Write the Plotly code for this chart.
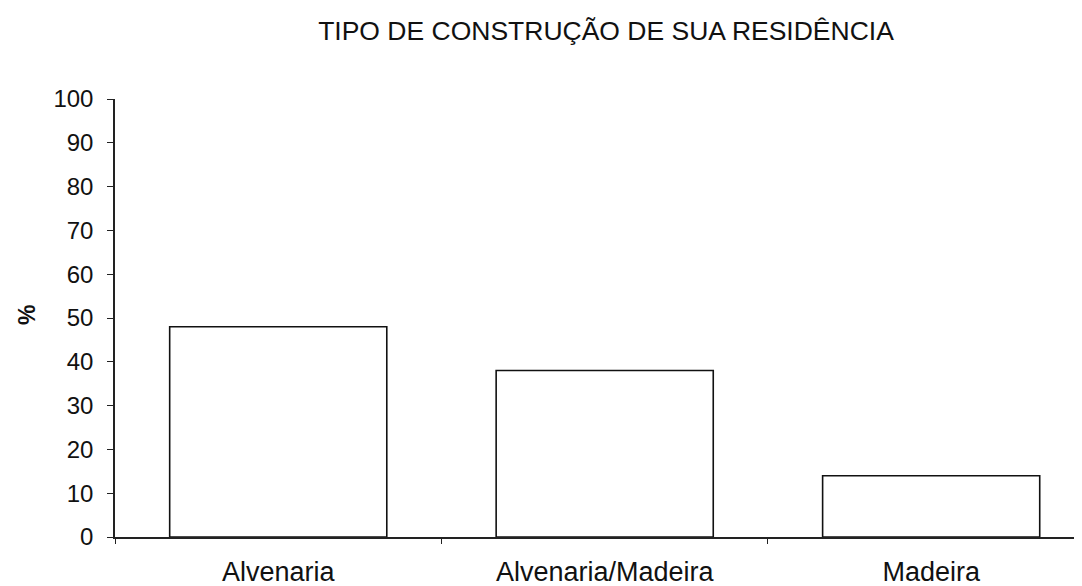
import plotly.graph_objects as go

categories = ["Alvenaria", "Alvenaria/Madeira", "Madeira"]
values = [48, 38, 14]
y_ticks = list(range(0, 101, 10))

title_text = "TIPO DE CONSTRUÇÃO DE SUA RESIDÊNCIA"
y_title = "%"

FONT = "Liberation Sans, Arial, sans-serif"
# page body has an 8px margin; the figure is sized to fill the rest of the window
OFF = 8
W, H = 1082 - OFF, 586 - OFF
L, R, T = 115 - OFF, 0, 99 - OFF
PLOT_H = 537 - 99
B = H - T - PLOT_H

fig = go.Figure()
fig.add_trace(go.Bar(
    x=categories,
    y=values,
    width=0.665,
    marker=dict(color="white", line=dict(color="#111111", width=1.6)),
    hoverinfo="x+y",
))

fig.update_layout(
    width=W,
    height=H,
    margin=dict(l=L, r=R, t=T, b=B, pad=0),
    paper_bgcolor="white",
    plot_bgcolor="white",
    showlegend=False,
    font=dict(family=FONT, color="#111111"),
    title=dict(
        text=title_text,
        font=dict(family=FONT, size=26.5, color="#111111"),
        xref="container",
        yref="container",
        x=(606 - OFF) / W,
        xanchor="center",
        y=1 - (31 - OFF) / H,
        yanchor="middle",
    ),
    xaxis=dict(
        type="category",
        range=[-0.5, 2.462],
        showline=True,
        linecolor="#222222",
        linewidth=1.5,
        ticks="outside",
        tickson="boundaries",
        ticklen=5,
        tickcolor="#222222",
        tickwidth=1.2,
        showgrid=False,
        zeroline=False,
        tickfont=dict(family=FONT, size=27, color="#111111"),
        ticklabelstandoff=10,
    ),
    yaxis=dict(
        range=[0, 100],
        tickvals=y_ticks,
        ticktext=[str(v) for v in y_ticks],
        showline=True,
        linecolor="#222222",
        linewidth=1.5,
        ticks="outside",
        ticklen=6,
        tickcolor="#222222",
        tickwidth=1.2,
        showgrid=False,
        zeroline=False,
        tickfont=dict(family=FONT, size=24, color="#111111"),
        ticklabelstandoff=9,
    ),
    annotations=[
        dict(
            text=y_title,
            xref="paper",
            yref="paper",
            x=(27 - 115) / (1082 - 115),
            y=(537 - 315) / PLOT_H,
            xanchor="center",
            yanchor="middle",
            textangle=-90,
            showarrow=False,
            font=dict(family=FONT, size=23, color="#111111", weight="bold"),
        )
    ],
)

fig.write_html("out.html")
